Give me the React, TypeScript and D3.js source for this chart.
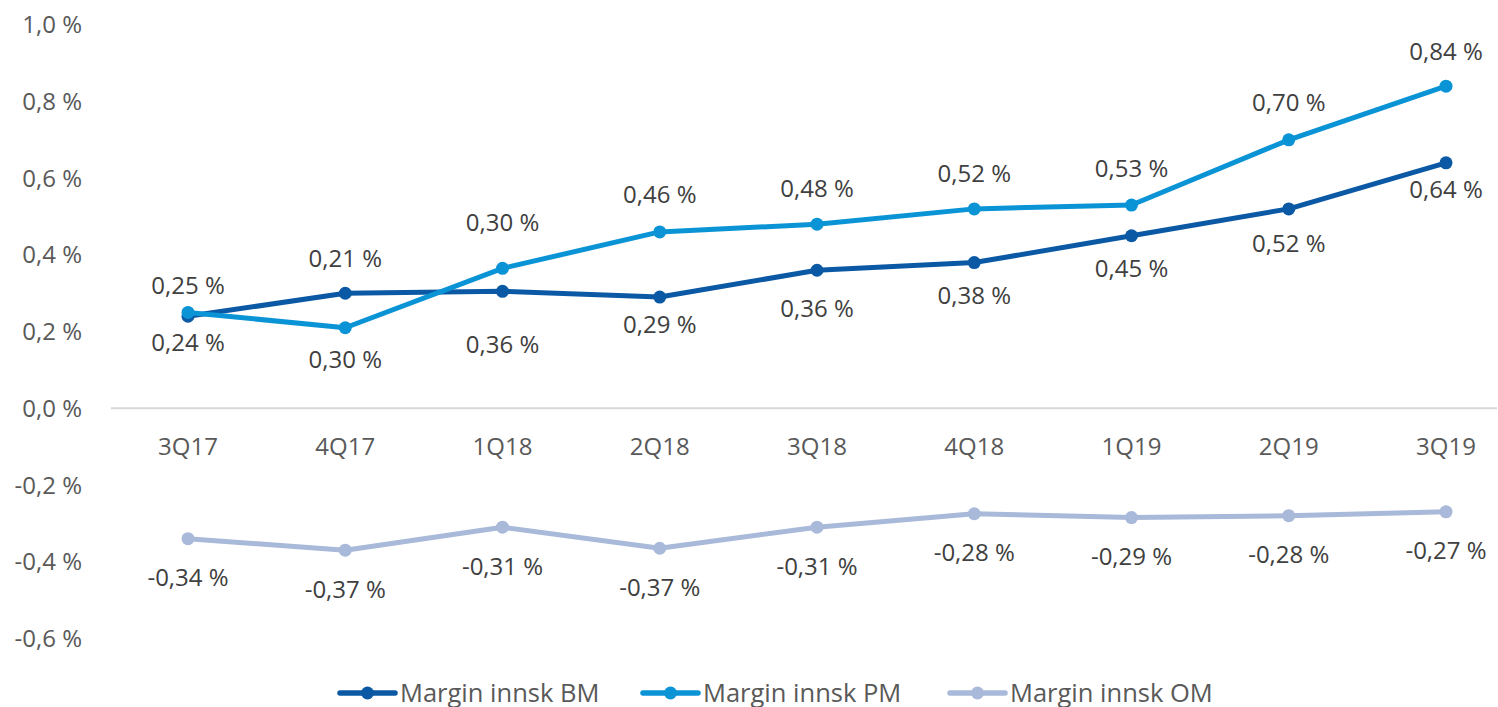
import React from "react";
import * as d3 from "d3";

const categories = ["3Q17", "4Q17", "1Q18", "2Q18", "3Q18", "4Q18", "1Q19", "2Q19", "3Q19"];
const bmValues = [0.24, 0.30, 0.305, 0.29, 0.36, 0.38, 0.45, 0.52, 0.64];
const pmValues = [0.25, 0.21, 0.365, 0.46, 0.48, 0.52, 0.53, 0.70, 0.84];
const omValues = [-0.34, -0.37, -0.31, -0.365, -0.31, -0.275, -0.285, -0.28, -0.27];
// data-label texts as shown in the chart
const upperLabelValues = [0.25, 0.21, 0.30, 0.46, 0.48, 0.52, 0.53, 0.70, 0.84];
const lowerLabelValues = [0.24, 0.30, 0.36, 0.29, 0.36, 0.38, 0.45, 0.52, 0.64];
const omLabelValues = [-0.34, -0.37, -0.31, -0.37, -0.31, -0.28, -0.29, -0.28, -0.27];
// where the labels sit (in value units)
const upperLabelAt = [0.322, 0.394, 0.488, 0.559, 0.577, 0.614, 0.627, 0.799, 0.934];
const lowerLabelAt = [0.173, 0.131, 0.170, 0.220, 0.264, 0.298, 0.366, 0.433, 0.574];
const yTicks = [1.0, 0.8, 0.6, 0.4, 0.2, 0.0, -0.2, -0.4, -0.6];
const seriesNames = ["Margin innsk BM", "Margin innsk PM", "Margin innsk OM"];

const W = 1498;
const H = 707;
const COLORS = ["#0B59A4", "#0A94D6", "#A9B9D9"];
const FONT = "'Open Sans', Lato, sans-serif";
const FS = 24;

const fmt = (v: number, digits: number) => v.toFixed(digits).replace(".", ",") + " %";

export default function App() {
  const x = d3.scalePoint<string>().domain(categories).range([188, 1446]);
  const y = d3.scaleLinear().domain([-0.6, 1.0]).range([638.4, 24.8]);
  const line = d3
    .line<number>()
    .x((_, i) => x(categories[i]) as number)
    .y((d) => y(d));

  const series = [bmValues, pmValues, omValues];

  const legendLineX = [340, 643, 950];
  const legendTextX = [400, 703, 1010];
  const legendLen = 55;

  return (
    <svg
      width={W}
      height={H}
      style={{ position: "absolute", left: 0, top: 0, background: "#fff" }}
      fontFamily={FONT}
    >
      {/* zero axis line */}
      <line x1={111} x2={1497} y1={y(0)} y2={y(0)} stroke="#D9D9D9" strokeWidth={2} />

      {/* y tick labels */}
      {yTicks.map((t) => (
        <text
          key={t}
          x={82}
          y={y(t) - 1}
          textAnchor="end"
          dominantBaseline="central"
          fontSize={FS}
          fill="#595959"
        >
          {fmt(t, 1)}
        </text>
      ))}

      {/* category labels */}
      {categories.map((c) => (
        <text
          key={c}
          x={x(c)}
          y={445}
          textAnchor="middle"
          dominantBaseline="central"
          fontSize={FS}
          fill="#595959"
        >
          {c}
        </text>
      ))}

      {/* lines */}
      {series.map((s, si) => (
        <g key={si}>
          <path d={line(s) || ""} fill="none" stroke={COLORS[si]} strokeWidth={5} strokeLinejoin="round" />
          {s.map((v, i) => (
            <circle key={i} cx={x(categories[i])} cy={y(v)} r={6.5} fill={COLORS[si]} />
          ))}
        </g>
      ))}

      {/* data labels */}
      {upperLabelValues.map((v, i) => (
        <text
          key={"u" + i}
          x={x(categories[i])}
          y={y(upperLabelAt[i])}
          textAnchor="middle"
          dominantBaseline="central"
          fontSize={FS}
          fill="#404040"
        >
          {fmt(v, 2)}
        </text>
      ))}
      {lowerLabelValues.map((v, i) => (
        <text
          key={"l" + i}
          x={x(categories[i])}
          y={y(lowerLabelAt[i])}
          textAnchor="middle"
          dominantBaseline="central"
          fontSize={FS}
          fill="#404040"
        >
          {fmt(v, 2)}
        </text>
      ))}
      {omLabelValues.map((v, i) => (
        <text
          key={"o" + i}
          x={x(categories[i])}
          y={y(omValues[i]) + 38}
          textAnchor="middle"
          dominantBaseline="central"
          fontSize={FS}
          fill="#404040"
        >
          {fmt(v, 2)}
        </text>
      ))}

      {/* legend */}
      {seriesNames.map((name, i) => (
        <g key={name}>
          <line
            x1={legendLineX[i]}
            x2={legendLineX[i] + legendLen}
            y1={693}
            y2={693}
            stroke={COLORS[i]}
            strokeWidth={5.5}
            strokeLinecap="round"
          />
          <circle cx={legendLineX[i] + legendLen / 2} cy={693} r={6.5} fill={COLORS[i]} />
          <text x={legendTextX[i]} y={702} fontSize={25.5} fill="#595959">
            {name}
          </text>
        </g>
      ))}
    </svg>
  );
}
